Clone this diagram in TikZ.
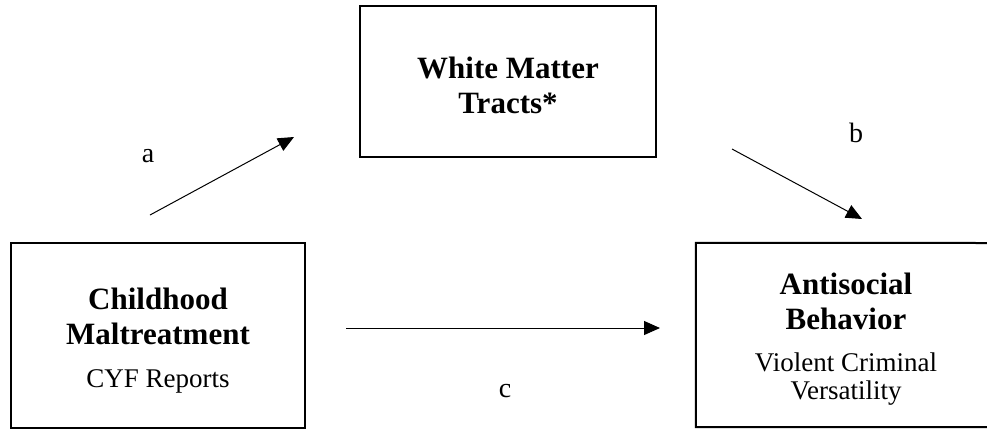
\documentclass[tikz,border=0pt]{standalone}
\usepackage{fontspec}
\setmainfont{Liberation Serif}
\usetikzlibrary{arrows.meta}
\begin{document}
\begin{tikzpicture}[x=1pt,y=-1pt,
  box/.style={draw, line width=2pt, inner sep=0pt},
  frame/.style={line width=2pt},
  heading/.style={font=\fontsize{31}{35}\selectfont\bfseries, anchor=base, inner sep=0pt},
  detail/.style={font=\fontsize{27}{28}\selectfont, anchor=base, inner sep=0pt},
  pathlabel/.style={font=\fontsize{28}{30}\selectfont, anchor=base, inner sep=0pt},
  conn/.style={line width=1pt, -{Triangle[length=16pt,width=14pt]}}]
\useasboundingbox (0,0) rectangle (987,432);

% boxes
\node[box, minimum width=294pt, minimum height=185pt] (cm) at (158,335.5) {};
\node[box, minimum width=296pt, minimum height=151pt] (wm) at (508,81.5) {};
% the outcome box runs off the right edge: only three sides show
\node[inner sep=0pt, minimum width=300pt, minimum height=184pt] (ab) at (846,335) {};
\coordinate (abtr) at (987,243);
\coordinate (abbr) at (987,427);
\draw[frame] (abtr) -- (ab.north west) -- (ab.south west) -- (abbr);

% box texts
\node[heading] (cm1) at (158,309) {Childhood};
\node[heading] (cm2) at (158,344) {Maltreatment};
\node[detail]  (cm3) at (158,387) {CYF Reports};

\node[heading] (wm1) at (508,78) {White Matter};
\node[heading] (wm2) at (508,113) {Tracts*};

\node[heading] (ab1) at (846,294) {Antisocial};
\node[heading] (ab2) at (846,329) {Behavior};
\node[detail]  (ab3) at (846,371) {Violent Criminal};
\node[detail]  (ab4) at (846,399) {Versatility};

% path arrows
\coordinate (a0) at (150,215);
\coordinate (a1) at (294,137);
\coordinate (b0) at (732,149);
\coordinate (b1) at (862,219);
\coordinate (c0) at (346,328);
\coordinate (c1) at (660,328);
\draw[conn] (a0) -- (a1);
\draw[conn] (b0) -- (b1);
\draw[conn] (c0) -- (c1);

% path labels
\node[pathlabel] (la) at (148,162) {a};
\node[pathlabel] (lb) at (856,142) {b};
\node[pathlabel] (lc) at (505,397) {c};
\end{tikzpicture}
\end{document}
